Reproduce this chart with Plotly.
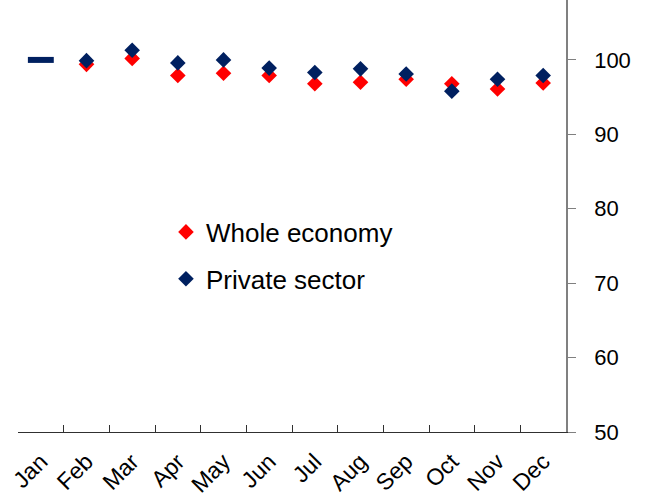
import plotly.graph_objects as go

months = ["Jan", "Feb", "Mar", "Apr", "May", "Jun", "Jul", "Aug", "Sep", "Oct", "Nov", "Dec"]
jan_value = 100
whole_economy = [99.4, 100.2, 97.9, 98.2, 97.9, 96.8, 97.0, 97.4, 96.8, 96.1, 96.9]
private_sector = [99.9, 101.3, 99.6, 100.0, 98.9, 98.3, 98.8, 98.1, 95.8, 97.4, 97.9]
y_ticks = [50, 60, 70, 80, 90, 100]

RED = "#ff0000"
NAVY = "#002060"

fig = go.Figure()
fig.add_trace(go.Scatter(
    x=[months[0]], y=[jan_value], mode="markers", showlegend=False,
    marker=dict(symbol="line-ew-open", size=18.5, line=dict(width=6, color=NAVY), color=NAVY),
    hoverinfo="skip"))
fig.add_trace(go.Scatter(
    x=months[1:], y=whole_economy, mode="markers", name="Whole economy",
    legendgroup="a",
    marker=dict(symbol="diamond", size=12, color=RED)))
fig.add_trace(go.Scatter(
    x=months[1:], y=private_sector, mode="markers", name="Private sector",
    legendgroup="b",
    marker=dict(symbol="diamond", size=12, color=NAVY)))

fig.update_layout(
    width=646, height=499,
    margin=dict(l=18, r=80, t=0, b=67),
    paper_bgcolor="white", plot_bgcolor="white",
    font=dict(family="Liberation Sans, Arial, sans-serif", color="black"),
    showlegend=True,
    legend=dict(x=0.27, y=0.4086, xanchor="left", yanchor="middle",
                font=dict(size=26, color="black"), bgcolor="rgba(0,0,0,0)",
                itemsizing="trace", tracegroupgap=10, traceorder="grouped"),
    xaxis=dict(
        type="category", categoryorder="array", categoryarray=months,
        range=[-0.5, 11.5], showgrid=False, zeroline=False, automargin=False,
        showline=True, linecolor="#303030", linewidth=1,
        ticks="inside", ticklen=7, tickcolor="#303030", tickson="boundaries",
        tickangle=-45, tickfont=dict(size=23, color="black"),
        ticklabelstandoff=6,
    ),
    yaxis=dict(
        side="right", range=[50, 108.05], tickvals=y_ticks,
        showgrid=False, zeroline=False, automargin=False,
        showline=True, linecolor="#808080", linewidth=1.5,
        ticks="outside", ticklen=8, tickcolor="#808080",
        tickfont=dict(size=22, color="black"),
        ticklabelstandoff=14,
    ),
)

fig.write_html("out.html")
